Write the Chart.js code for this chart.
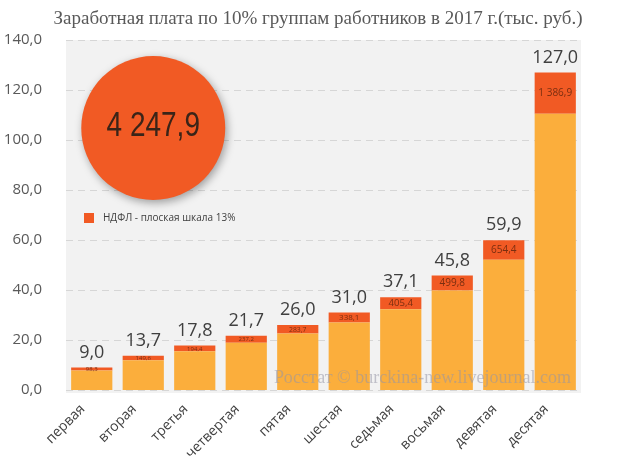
<!DOCTYPE html>
<html>
<head>
<meta charset="utf-8">
<script src="https://cdn.jsdelivr.net/npm/chart.js@4.4.0/dist/chart.umd.min.js"></script>
<style>
  html, body { margin: 0; padding: 0; background: #ffffff; }
  #wrap { width: 626px; height: 470px; position: relative; }
</style>
</head>
<body>
<div id="wrap"><canvas id="c" width="626" height="470"></canvas></div>
<script>
const titleText = 'Заработная плата по 10% группам работников в 2017 г.(тыс. руб.)';
const categories = ['первая','вторая','третья','четвертая','пятая','шестая','седьмая','восьмая','девятая','десятая'];
const totals = [9.0, 13.7, 17.8, 21.7, 26.0, 31.0, 37.1, 45.8, 59.9, 127.0];
const netPay = [7.8, 11.9, 15.5, 18.9, 22.6, 27.0, 32.3, 39.8, 52.1, 110.5];
const taxPay = [1.2, 1.8, 2.3, 2.8, 3.4, 4.0, 4.8, 6.0, 7.8, 16.5];
const taxLabels = [98.3, 149.6, 194.4, 237.2, 283.7, 338.1, 405.4, 499.8, 654.4, 1386.9];
const taxTotal = 4247.9;
const legendText = 'НДФЛ - плоская шкала 13%';
const watermark = 'Росстат © burckina-new.livejournal.com';
const yMin = 0, yMax = 140, yStep = 20;

function fmt(v) {
  const s = v.toFixed(1).split('.');
  const intPart = s[0].replace(/\B(?=(\d{3})+(?!\d))/g, ' ');
  return intPart + ',' + s[1];
}

const NET_COLOR = '#fbae3c';
const TAX_COLOR = '#f15a24';

const bgPlugin = {
  id: 'bg',
  beforeDatasetsDraw(chart) {
    const { ctx, chartArea: a, scales } = chart;
    ctx.save();
    ctx.fillStyle = '#f2f2f2';
    ctx.fillRect(a.left, a.top, a.right - a.left, a.bottom - a.top + 3);
    // dashed grid lines
    ctx.strokeStyle = '#d6d6d6';
    ctx.lineWidth = 1;
    ctx.setLineDash([7, 5]);
    scales.y.ticks.forEach(t => {
      const y = Math.round(scales.y.getPixelForValue(t.value)) + 0.5;
      ctx.beginPath();
      ctx.moveTo(a.left, y);
      ctx.lineTo(a.right, y);
      ctx.stroke();
    });
    ctx.restore();
  }
};

const decoPlugin = {
  id: 'deco',
  afterDraw(chart) {
    const { ctx, chartArea: a, scales } = chart;
    const xs = scales.x, ys = scales.y;
    ctx.save();
    // title
    ctx.fillStyle = '#595959';
    ctx.font = '19px "Liberation Serif"';
    ctx.textAlign = 'center';
    ctx.textBaseline = 'middle';
    ctx.fillText(titleText, 318, 19);

    // totals above bars
    ctx.fillStyle = '#404040';
    ctx.font = '18px "Open Sans"';
    ctx.textBaseline = 'alphabetic';
    totals.forEach((v, i) => {
      const x = xs.getPixelForValue(i);
      const y = ys.getPixelForValue(v);
      ctx.fillText(fmt(v), x, y - 10);
    });

    // tax labels inside red segments
    const meta = chart.getDatasetMeta(1);
    meta.data.forEach((bar, i) => {
      const h = Math.abs(bar.base - bar.y);
      const fs = Math.max(6, Math.min(10, h * 0.8));
      ctx.font = fs + 'px "Open Sans"';
      ctx.fillStyle = '#7a2e10';
      ctx.textBaseline = 'middle';
      ctx.fillText(fmt(taxLabels[i]), bar.x, (bar.y + bar.base) / 2 + 0.5);
    });

    // watermark
    ctx.font = '18px "Liberation Serif"';
    ctx.fillStyle = 'rgba(150,150,165,0.55)';
    ctx.textAlign = 'right';
    ctx.textBaseline = 'middle';
    ctx.fillText(watermark, a.right - 10, ys.getPixelForValue(4.8));

    // big circle
    const cx = xs.getPixelForValue(1) + 10;
    const cy = ys.getPixelForValue(104.8);
    const r = 72;
    ctx.save();
    ctx.shadowColor = 'rgba(0,0,0,0.35)';
    ctx.shadowBlur = 8;
    ctx.shadowOffsetX = 2;
    ctx.shadowOffsetY = 3;
    ctx.beginPath();
    ctx.arc(cx, cy, r, 0, Math.PI * 2);
    ctx.fillStyle = TAX_COLOR;
    ctx.fill();
    ctx.restore();
    ctx.save();
    ctx.translate(cx, cy);
    ctx.scale(0.8, 1);
    ctx.font = '35px "Liberation Sans"';
    ctx.fillStyle = '#3a2418';
    ctx.textAlign = 'center';
    ctx.textBaseline = 'middle';
    ctx.fillText(fmt(taxTotal), 0, -2);
    ctx.restore();

    // legend
    const ly = ys.getPixelForValue(68.8);
    const lx = a.left + 18;
    ctx.fillStyle = TAX_COLOR;
    ctx.fillRect(lx, ly - 5, 10, 10);
    ctx.fillStyle = '#404040';
    ctx.font = '10px "Open Sans"';
    ctx.textAlign = 'left';
    ctx.textBaseline = 'middle';
    ctx.fillText(legendText, lx + 19, ly);
    ctx.restore();
  }
};

new Chart(document.getElementById('c'), {
  type: 'bar',
  data: {
    labels: categories,
    datasets: [
      { label: 'Зарплата', data: netPay, backgroundColor: NET_COLOR, stack: 's', barPercentage: 0.8, categoryPercentage: 1.0 },
      { label: legendText, data: taxPay, backgroundColor: TAX_COLOR, stack: 's', barPercentage: 0.8, categoryPercentage: 1.0 }
    ]
  },
  options: {
    responsive: false,
    animation: false,
    layout: { padding: { top: 40, right: 45, left: 0, bottom: 0 } },
    plugins: { legend: { display: false }, tooltip: { enabled: false }, title: { display: false } },
    scales: {
      x: {
        stacked: true,
        grid: { display: false },
        border: { display: false },
        ticks: {
          color: '#404040',
          font: { family: 'Open Sans', size: 14 },
          minRotation: 45, maxRotation: 45,
          autoSkip: false,
          labelOffset: -9
        },
        afterFit(s) { s.height = 80; }
      },
      y: {
        stacked: true,
        min: yMin, max: yMax,
        grid: { display: false },
        border: { display: false },
        ticks: {
          stepSize: yStep,
          color: '#595959',
          font: { family: 'Open Sans', size: 15 },
          padding: 16,
          callback: v => fmt(v)
        },
        afterFit(s) { s.width = 66; }
      }
    }
  },
  plugins: [bgPlugin, decoPlugin]
});
</script>
</body>
</html>
